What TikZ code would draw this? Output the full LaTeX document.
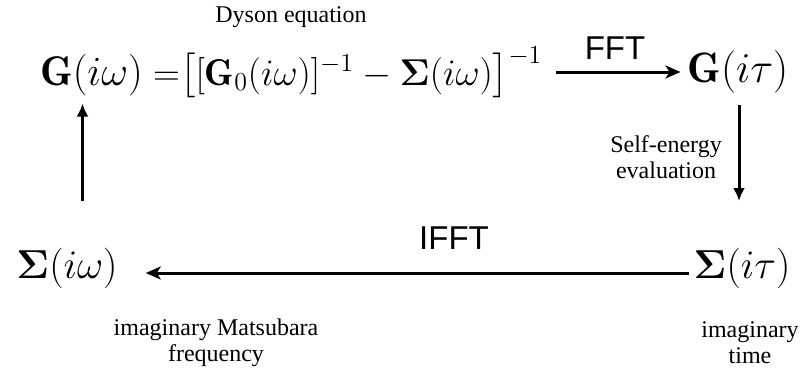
\documentclass[tikz,border=0pt]{standalone}
\usepackage{amsmath}
\usepackage{graphicx}
\usepackage{fontspec}
\newfontfamily\tnr{Liberation Serif}
\newfontfamily\hlv{Liberation Sans}
\usetikzlibrary{arrows.meta}
\newcommand{\bigmath}[2][1.95]{\scalebox{#1}{\huge$#2$}}
\begin{document}
\begin{tikzpicture}[x=1pt,y=-1pt,
  mathlbl/.style={inner sep=0pt},
  note/.style={inner sep=0pt,align=center,font=\tnr\fontsize{24}{26}\selectfont},
  opl/.style={inner sep=0pt,font=\hlv\fontsize{33}{36}\selectfont},
  harr/.style={line width=3pt,-{Stealth[length=15pt,width=13pt,inset=4pt]}},
  varr/.style={line width=3pt,-{Latex[length=13pt,width=12pt]}}]
\useasboundingbox (0,0) rectangle (805,375);
\node[note] (dyson) at (291,17) {Dyson equation};
\node[mathlbl,anchor=base west] (lhs) at (40,85) {\bigmath[2.0]{\mathbf{G}(i\omega)}};
\node[mathlbl,anchor=base west] (rhs) at ([xshift=10pt]lhs.base east) {\bigmath[1.8]{{=}\big[[\mathbf{G}_0(i\omega)]^{-1}-\boldsymbol{\Sigma}(i\omega)\big]^{-1}}};
\node[mathlbl] (git) at (738,72) {\bigmath[2.05]{\mathbf{G}(i\tau)}};
\node[mathlbl] (sit) at (742,268) {\bigmath{\boldsymbol{\Sigma}(i\tau)}};
\node[mathlbl] (siw) at (67,268) {\bigmath{\boldsymbol{\Sigma}(i\omega)}};
\node[opl] (fft) at (615,48) {FFT};
\node[opl] (ifft) at (454,238) {IFFT};
\node[note] (se) at (666,157) {Self-energy\\evaluation};
\node[note] (imf) at (216,343) {imaginary Matsubara\\frequency};
\node[note] (imt) at (750,343) {imaginary\\time};
\draw[harr] ([xshift=14pt]rhs.east |- git) -- ([xshift=-7pt]git.west);
\draw[varr] ([xshift=1pt,yshift=-12pt]git.south) -- ([xshift=1pt]git.south |- 0,201);
\draw[harr] ([xshift=-4pt,yshift=-5pt]sit.west) -- ([xshift=28pt,yshift=-5pt]siw.east);
\draw[varr] ([xshift=-9pt]lhs.south |- 0,201) -- ([xshift=-9pt,yshift=-8pt]lhs.south);
\end{tikzpicture}
\end{document}
